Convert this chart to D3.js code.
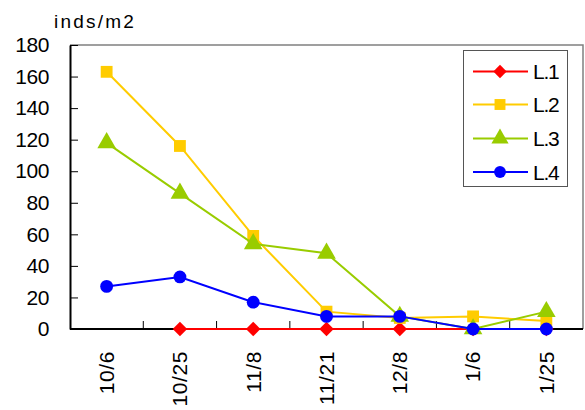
<!DOCTYPE html>
<html><head><meta charset="utf-8">
<script src="https://cdn.jsdelivr.net/npm/d3@7"></script>
<style>body{margin:0;background:#fff}svg{display:block}text{font-family:"Liberation Sans",Arial,sans-serif;fill:#000}</style>
</head><body>
<svg id="c" width="585" height="410"></svg>
<script>
const categories = ["10/6","10/25","11/8","11/21","12/8","1/6","1/25"];
const L1 = [null,0,0,0,0,0,0];
const L2 = [163,116,59,11,7,8,5];
const L3 = [118,86,54,48,8,0,11];
const L4 = [27,33,17,8,8,0,0];
const yTicks = [0,20,40,60,80,100,120,140,160,180];
const seriesNames = ["L.1","L.2","L.3","L.4"];
const seriesValues = [L1,L2,L3,L4];
const colors = ["#ff0000","#ffcc00","#99cc00","#0000ff"];
const symbols = [d3.symbolSquare, d3.symbolSquare, d3.symbolTriangle, d3.symbolCircle];
const symRot = [45,0,0,0];
const symSizes = [105,140,150,130];

const svg = d3.select("#c");
const L=70,R=583,T=45,B=329;
const x = d3.scaleBand().domain(categories).range([L,R]);
const y = d3.scaleLinear().domain([0,180]).range([B,T]);
const cx = c => x(c)+x.bandwidth()/2;

svg.append("path").attr("d",`M${L},${T}H${R}V${B}`).attr("fill","none").attr("stroke","#808080").attr("stroke-width",1.5);

const ya = svg.append("g").attr("transform",`translate(${L},0)`)
  .call(d3.axisLeft(y).tickValues(yTicks).tickSize(-8).tickPadding(21).tickSizeOuter(0));
ya.select(".domain").attr("stroke","#000").attr("stroke-width",2);
ya.selectAll(".tick line").attr("stroke","#000").attr("stroke-width",1);
ya.selectAll(".tick text").attr("font-size",21).attr("font-family","Liberation Sans, Arial, sans-serif").attr("fill","#000").attr("letter-spacing",-0.4);

svg.append("line").attr("x1",L).attr("x2",R).attr("y1",B).attr("y2",B).attr("stroke","#000").attr("stroke-width",2);
svg.append("g").selectAll("line").data(categories.slice(1)).join("line")
  .attr("x1",d=>x(d)).attr("x2",d=>x(d)).attr("y1",B).attr("y2",B-8).attr("stroke","#000").attr("stroke-width",1);
svg.append("g").selectAll("text").data(categories).join("text")
  .attr("transform",d=>`translate(${cx(d)},351) rotate(-90)`)
  .attr("text-anchor","end").attr("dy","0.35em").attr("font-size",21).attr("letter-spacing",0.6).text(d=>d);

svg.append("text").attr("x",54).attr("y",28).attr("font-size",19).attr("letter-spacing",2.2).text("inds/m2");

seriesValues.forEach((vals,i)=>{
  const pts = categories.map((c,j)=>({c,v:vals[j]}));
  const line = d3.line().defined(d=>d.v!==null).x(d=>cx(d.c)).y(d=>y(d.v));
  svg.append("path").datum(pts).attr("d",line).attr("fill","none").attr("stroke",colors[i]).attr("stroke-width",2);
  svg.append("g").selectAll("path").data(pts.filter(d=>d.v!==null)).join("path")
    .attr("d",d3.symbol().type(symbols[i]).size(symSizes[i]))
    .attr("transform",d=>`translate(${cx(d.c)},${y(d.v)}) rotate(${symRot[i]})`).attr("fill",colors[i]);
});

const lg = svg.append("g");
lg.append("rect").attr("x",463.5).attr("y",50.5).attr("width",104).attr("height",136).attr("fill","#fff").attr("stroke","#555").attr("stroke-width",1);
const ly = [71.5,104.5,138.5,172];
seriesNames.forEach((n,i)=>{
  lg.append("line").attr("x1",473).attr("x2",528).attr("y1",ly[i]).attr("y2",ly[i]).attr("stroke",colors[i]).attr("stroke-width",2);
  lg.append("path").attr("d",d3.symbol().type(symbols[i]).size(symSizes[i]*0.85)).attr("transform",`translate(500,${ly[i]}) rotate(${symRot[i]})`).attr("fill",colors[i]);
  lg.append("text").attr("x",533).attr("y",ly[i]).attr("dy","0.36em").attr("font-size",21).attr("letter-spacing",-1.2).text(n);
});
</script>
</body></html>
